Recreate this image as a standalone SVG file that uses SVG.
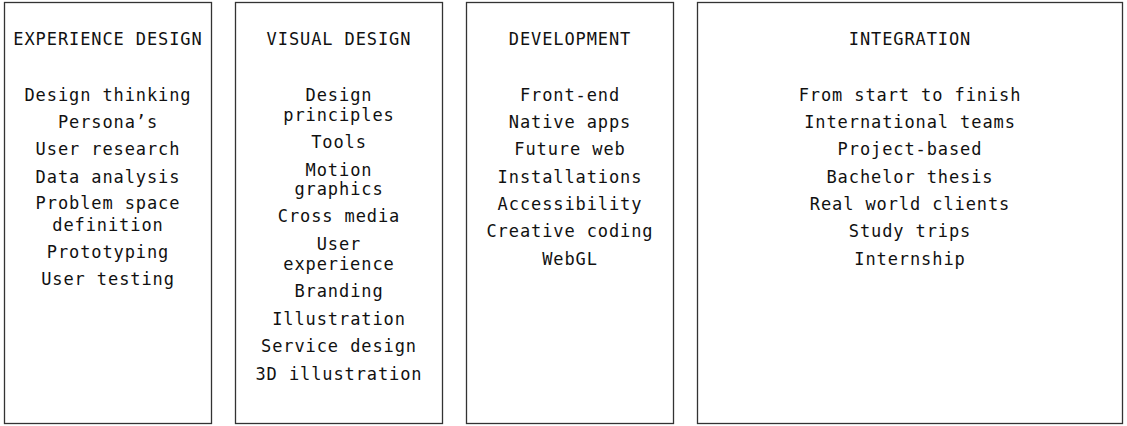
<svg xmlns="http://www.w3.org/2000/svg" width="1127" height="426" viewBox="0 0 1127 426">
<style>
.box{fill:#fff;stroke:#333;stroke-width:1.3}
text{font-family:"DejaVu Sans Mono","Liberation Mono",monospace;font-size:17px;letter-spacing:0.9px;fill:#111;text-anchor:middle}
</style>
<rect width="1127" height="426" fill="#fff"/>
<g id="experience-design">
<rect class="box" x="4.5" y="2.5" width="207" height="421"/>
<text x="108" y="45">EXPERIENCE DESIGN</text>
<text x="108" y="100.5">Design thinking</text>
<text x="108" y="128">Persona’s</text>
<text x="108" y="155.3">User research</text>
<text x="108" y="182.7">Data analysis</text>
<text x="108" y="209">Problem space</text>
<text x="108" y="230.5">definition</text>
<text x="108" y="258">Prototyping</text>
<text x="108" y="285.3">User testing</text>
</g>
<g id="visual-design">
<rect class="box" x="235.5" y="2.5" width="207" height="421"/>
<text x="339" y="45">VISUAL DESIGN</text>
<text x="339" y="100.5">Design</text>
<text x="339" y="121">principles</text>
<text x="339" y="148">Tools</text>
<text x="339" y="175.5">Motion</text>
<text x="339" y="195">graphics</text>
<text x="339" y="222">Cross media</text>
<text x="339" y="250">User</text>
<text x="339" y="270">experience</text>
<text x="339" y="297">Branding</text>
<text x="339" y="324.5">Illustration</text>
<text x="339" y="352">Service design</text>
<text x="339" y="379.5">3D illustration</text>
</g>
<g id="development">
<rect class="box" x="466.5" y="2.5" width="207" height="421"/>
<text x="570" y="45">DEVELOPMENT</text>
<text x="570" y="100.5">Front-end</text>
<text x="570" y="127.8">Native apps</text>
<text x="570" y="155.2">Future web</text>
<text x="570" y="182.6">Installations</text>
<text x="570" y="210">Accessibility</text>
<text x="570" y="237.4">Creative coding</text>
<text x="570" y="264.8">WebGL</text>
</g>
<g id="integration">
<rect class="box" x="697.5" y="2.5" width="425" height="421"/>
<text x="910" y="45">INTEGRATION</text>
<text x="910" y="100.5">From start to finish</text>
<text x="910" y="127.8">International teams</text>
<text x="910" y="155.2">Project-based</text>
<text x="910" y="182.6">Bachelor thesis</text>
<text x="910" y="210">Real world clients</text>
<text x="910" y="237.4">Study trips</text>
<text x="910" y="264.8">Internship</text>
</g>
<g id="connectors"/>
</svg>
